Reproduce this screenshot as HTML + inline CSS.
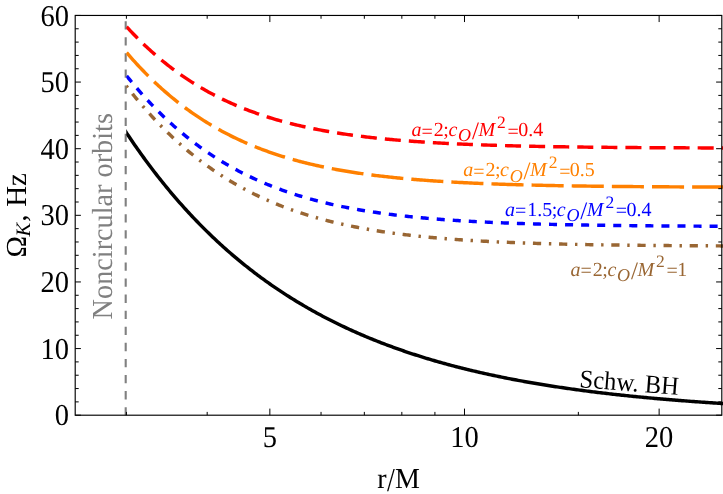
<!DOCTYPE html>
<html><head><meta charset="utf-8"><title>plot</title>
<style>html,body{margin:0;padding:0;background:#fff}body{width:723px;height:494px;position:relative;overflow:hidden;font-family:"Liberation Serif",serif}</style>
</head><body>
<svg width="723" height="494" viewBox="0 0 723 494" style="position:absolute;left:0;top:0;will-change:transform;text-rendering:geometricPrecision">
<defs><clipPath id="cl"><rect x="126.30" y="15.45" width="596.70" height="399.75"/></clipPath></defs>
<line x1="125.7" y1="21.15" x2="125.7" y2="415.20" stroke="#808080" stroke-width="2.1" stroke-dasharray="8.35 7.733" stroke-dashoffset="0"/>
<path id="c_red" clip-path="url(#cl)" d="M122.63 22.32 L124.13 24.01 L125.64 25.68 L127.14 27.33 L128.64 28.95 L130.15 30.57 L131.65 32.16 L133.15 33.73 L134.66 35.28 L136.16 36.82 L137.66 38.34 L139.17 39.83 L140.67 41.31 L142.17 42.78 L143.68 44.22 L145.18 45.65 L146.69 47.06 L148.19 48.45 L149.69 49.83 L151.20 51.19 L152.70 52.53 L154.20 53.86 L155.71 55.17 L157.21 56.46 L158.71 57.74 L160.22 59.00 L161.72 60.25 L163.22 61.48 L164.73 62.69 L166.23 63.89 L167.73 65.07 L169.24 66.24 L170.74 67.40 L172.25 68.54 L173.75 69.66 L175.25 70.78 L176.76 71.87 L178.26 72.96 L179.76 74.03 L181.27 75.08 L182.77 76.12 L184.27 77.15 L185.78 78.17 L187.28 79.17 L188.78 80.16 L190.29 81.13 L191.79 82.10 L193.29 83.05 L194.80 83.98 L196.30 84.91 L197.81 85.82 L199.31 86.72 L200.81 87.61 L202.32 88.49 L203.82 89.36 L205.32 90.21 L206.83 91.05 L208.33 91.89 L209.83 92.71 L211.34 93.52 L212.84 94.31 L214.34 95.10 L215.85 95.88 L217.35 96.65 L218.85 97.40 L220.36 98.15 L221.86 98.88 L223.37 99.61 L224.87 100.33 L226.37 101.03 L227.88 101.73 L229.38 102.41 L230.88 103.09 L232.39 103.76 L233.89 104.42 L235.39 105.07 L236.90 105.71 L238.40 106.34 L239.90 106.96 L241.41 107.58 L242.91 108.18 L244.41 108.78 L245.92 109.37 L247.42 109.95 L248.92 110.52 L250.43 111.08 L251.93 111.64 L253.44 112.19 L254.94 112.73 L256.44 113.26 L257.95 113.79 L259.45 114.31 L260.95 114.82 L262.46 115.32 L263.96 115.82 L265.46 116.30 L266.97 116.79 L268.47 117.26 L269.97 117.73 L271.48 118.19 L272.98 118.65 L274.48 119.09 L275.99 119.54 L277.49 119.97 L279.00 120.40 L280.50 120.82 L282.00 121.24 L283.51 121.65 L285.01 122.05 L286.51 122.45 L288.02 122.85 L289.52 123.23 L291.02 123.61 L292.53 123.99 L294.03 124.36 L295.53 124.73 L297.04 125.08 L298.54 125.44 L300.04 125.79 L301.55 126.13 L303.05 126.47 L304.56 126.80 L306.06 127.13 L307.56 127.46 L309.07 127.78 L310.57 128.09 L312.07 128.40 L313.58 128.71 L315.08 129.01 L316.58 129.30 L318.09 129.59 L319.59 129.88 L321.09 130.16 L322.60 130.44 L324.10 130.72 L325.60 130.99 L327.11 131.25 L328.61 131.52 L330.12 131.78 L331.62 132.03 L333.12 132.28 L334.63 132.53 L336.13 132.77 L337.63 133.01 L339.14 133.25 L340.64 133.48 L342.14 133.71 L343.65 133.93 L345.15 134.16 L346.65 134.37 L348.16 134.59 L349.66 134.80 L351.16 135.01 L352.67 135.22 L354.17 135.42 L355.67 135.62 L357.18 135.81 L358.68 136.01 L360.19 136.20 L361.69 136.39 L363.19 136.57 L364.70 136.75 L366.20 136.93 L367.70 137.11 L369.21 137.28 L370.71 137.45 L372.21 137.62 L373.72 137.79 L375.22 137.95 L376.72 138.11 L378.23 138.27 L379.73 138.43 L381.23 138.58 L382.74 138.73 L384.24 138.88 L385.75 139.02 L387.25 139.17 L388.75 139.31 L390.26 139.45 L391.76 139.59 L393.26 139.72 L394.77 139.86 L396.27 139.99 L397.77 140.12 L399.28 140.25 L400.78 140.37 L402.28 140.49 L403.79 140.62 L405.29 140.74 L406.79 140.85 L408.30 140.97 L409.80 141.08 L411.31 141.20 L412.81 141.31 L414.31 141.41 L415.82 141.52 L417.32 141.63 L418.82 141.73 L420.33 141.83 L421.83 141.93 L423.33 142.03 L424.84 142.13 L426.34 142.23 L427.84 142.32 L429.35 142.41 L430.85 142.51 L432.35 142.60 L433.86 142.69 L435.36 142.77 L436.87 142.86 L438.37 142.94 L439.87 143.03 L441.38 143.11 L442.88 143.19 L444.38 143.27 L445.89 143.35 L447.39 143.42 L448.89 143.50 L450.40 143.57 L451.90 143.65 L453.40 143.72 L454.91 143.79 L456.41 143.86 L457.91 143.93 L459.42 144.00 L460.92 144.07 L462.42 144.13 L463.93 144.20 L465.43 144.26 L466.94 144.32 L468.44 144.38 L469.94 144.45 L471.45 144.50 L472.95 144.56 L474.45 144.62 L475.96 144.68 L477.46 144.73 L478.96 144.79 L480.47 144.84 L481.97 144.90 L483.47 144.95 L484.98 145.00 L486.48 145.05 L487.98 145.10 L489.49 145.15 L490.99 145.20 L492.50 145.25 L494.00 145.30 L495.50 145.34 L497.01 145.39 L498.51 145.43 L500.01 145.48 L501.52 145.52 L503.02 145.56 L504.52 145.61 L506.03 145.65 L507.53 145.69 L509.03 145.73 L510.54 145.77 L512.04 145.81 L513.54 145.85 L515.05 145.88 L516.55 145.92 L518.06 145.96 L519.56 145.99 L521.06 146.03 L522.57 146.06 L524.07 146.10 L525.57 146.13 L527.08 146.17 L528.58 146.20 L530.08 146.23 L531.59 146.26 L533.09 146.29 L534.59 146.32 L536.10 146.35 L537.60 146.38 L539.10 146.41 L540.61 146.44 L542.11 146.47 L543.62 146.50 L545.12 146.53 L546.62 146.55 L548.13 146.58 L549.63 146.61 L551.13 146.63 L552.64 146.66 L554.14 146.68 L555.64 146.71 L557.15 146.73 L558.65 146.75 L560.15 146.78 L561.66 146.80 L563.16 146.82 L564.66 146.84 L566.17 146.87 L567.67 146.89 L569.17 146.91 L570.68 146.93 L572.18 146.95 L573.69 146.97 L575.19 146.99 L576.69 147.01 L578.20 147.03 L579.70 147.05 L581.20 147.07 L582.71 147.09 L584.21 147.10 L585.71 147.12 L587.22 147.14 L588.72 147.16 L590.22 147.17 L591.73 147.19 L593.23 147.21 L594.73 147.22 L596.24 147.24 L597.74 147.26 L599.25 147.27 L600.75 147.29 L602.25 147.30 L603.76 147.32 L605.26 147.33 L606.76 147.34 L608.27 147.36 L609.77 147.37 L611.27 147.39 L612.78 147.40 L614.28 147.41 L615.78 147.42 L617.29 147.44 L618.79 147.45 L620.29 147.46 L621.80 147.47 L623.30 147.49 L624.81 147.50 L626.31 147.51 L627.81 147.52 L629.32 147.53 L630.82 147.54 L632.32 147.55 L633.83 147.57 L635.33 147.58 L636.83 147.59 L638.34 147.60 L639.84 147.61 L641.34 147.62 L642.85 147.63 L644.35 147.64 L645.85 147.64 L647.36 147.65 L648.86 147.66 L650.37 147.67 L651.87 147.68 L653.37 147.69 L654.88 147.70 L656.38 147.71 L657.88 147.71 L659.39 147.72 L660.89 147.73 L662.39 147.74 L663.90 147.75 L665.40 147.75 L666.90 147.76 L668.41 147.77 L669.91 147.78 L671.41 147.78 L672.92 147.79 L674.42 147.80 L675.92 147.80 L677.43 147.81 L678.93 147.82 L680.44 147.82 L681.94 147.83 L683.44 147.84 L684.95 147.84 L686.45 147.85 L687.95 147.85 L689.46 147.86 L690.96 147.87 L692.46 147.87 L693.97 147.88 L695.47 147.88 L696.97 147.89 L698.48 147.89 L699.98 147.90 L701.48 147.90 L702.99 147.91 L704.49 147.91 L706.00 147.92 L707.50 147.92 L709.00 147.93 L710.51 147.93 L712.01 147.94 L713.51 147.94 L715.02 147.95 L716.52 147.95 L718.02 147.96 L719.53 147.96 L721.03 147.96 L722.53 147.97 L724.04 147.97" fill="none" stroke="#ff0000" stroke-width="3.45" stroke-dasharray="16.05 8.03" stroke-dashoffset="-5.94"/>
<path id="c_orange" clip-path="url(#cl)" d="M122.63 47.80 L124.13 49.61 L125.64 51.39 L127.14 53.16 L128.64 54.91 L130.15 56.63 L131.65 58.34 L133.15 60.03 L134.66 61.70 L136.16 63.35 L137.66 64.98 L139.17 66.59 L140.67 68.19 L142.17 69.76 L143.68 71.32 L145.18 72.86 L146.69 74.39 L148.19 75.89 L149.69 77.38 L151.20 78.85 L152.70 80.30 L154.20 81.74 L155.71 83.16 L157.21 84.56 L158.71 85.95 L160.22 87.32 L161.72 88.67 L163.22 90.01 L164.73 91.33 L166.23 92.64 L167.73 93.93 L169.24 95.20 L170.74 96.46 L172.25 97.71 L173.75 98.94 L175.25 100.15 L176.76 101.35 L178.26 102.54 L179.76 103.71 L181.27 104.86 L182.77 106.01 L184.27 107.13 L185.78 108.25 L187.28 109.35 L188.78 110.44 L190.29 111.51 L191.79 112.57 L193.29 113.61 L194.80 114.65 L196.30 115.67 L197.81 116.68 L199.31 117.67 L200.81 118.65 L202.32 119.62 L203.82 120.58 L205.32 121.53 L206.83 122.46 L208.33 123.38 L209.83 124.29 L211.34 125.19 L212.84 126.07 L214.34 126.95 L215.85 127.81 L217.35 128.66 L218.85 129.50 L220.36 130.33 L221.86 131.15 L223.37 131.96 L224.87 132.76 L226.37 133.55 L227.88 134.32 L229.38 135.09 L230.88 135.85 L232.39 136.59 L233.89 137.33 L235.39 138.06 L236.90 138.77 L238.40 139.48 L239.90 140.18 L241.41 140.87 L242.91 141.55 L244.41 142.22 L245.92 142.88 L247.42 143.53 L248.92 144.17 L250.43 144.81 L251.93 145.43 L253.44 146.05 L254.94 146.66 L256.44 147.26 L257.95 147.85 L259.45 148.43 L260.95 149.01 L262.46 149.58 L263.96 150.14 L265.46 150.69 L266.97 151.23 L268.47 151.77 L269.97 152.30 L271.48 152.82 L272.98 153.34 L274.48 153.85 L275.99 154.35 L277.49 154.84 L279.00 155.33 L280.50 155.81 L282.00 156.28 L283.51 156.74 L285.01 157.20 L286.51 157.66 L288.02 158.10 L289.52 158.54 L291.02 158.98 L292.53 159.41 L294.03 159.83 L295.53 160.24 L297.04 160.65 L298.54 161.06 L300.04 161.46 L301.55 161.85 L303.05 162.23 L304.56 162.61 L306.06 162.99 L307.56 163.36 L309.07 163.73 L310.57 164.08 L312.07 164.44 L313.58 164.79 L315.08 165.13 L316.58 165.47 L318.09 165.80 L319.59 166.13 L321.09 166.46 L322.60 166.78 L324.10 167.09 L325.60 167.40 L327.11 167.71 L328.61 168.01 L330.12 168.31 L331.62 168.60 L333.12 168.89 L334.63 169.17 L336.13 169.45 L337.63 169.73 L339.14 170.00 L340.64 170.26 L342.14 170.53 L343.65 170.79 L345.15 171.04 L346.65 171.29 L348.16 171.54 L349.66 171.79 L351.16 172.03 L352.67 172.26 L354.17 172.50 L355.67 172.73 L357.18 172.95 L358.68 173.18 L360.19 173.40 L361.69 173.61 L363.19 173.83 L364.70 174.04 L366.20 174.24 L367.70 174.45 L369.21 174.65 L370.71 174.84 L372.21 175.04 L373.72 175.23 L375.22 175.42 L376.72 175.61 L378.23 175.79 L379.73 175.97 L381.23 176.15 L382.74 176.32 L384.24 176.49 L385.75 176.66 L387.25 176.83 L388.75 176.99 L390.26 177.16 L391.76 177.32 L393.26 177.47 L394.77 177.63 L396.27 177.78 L397.77 177.93 L399.28 178.08 L400.78 178.22 L402.28 178.37 L403.79 178.51 L405.29 178.65 L406.79 178.78 L408.30 178.92 L409.80 179.05 L411.31 179.18 L412.81 179.31 L414.31 179.43 L415.82 179.56 L417.32 179.68 L418.82 179.80 L420.33 179.92 L421.83 180.04 L423.33 180.15 L424.84 180.27 L426.34 180.38 L427.84 180.49 L429.35 180.60 L430.85 180.70 L432.35 180.81 L433.86 180.91 L435.36 181.01 L436.87 181.11 L438.37 181.21 L439.87 181.31 L441.38 181.40 L442.88 181.50 L444.38 181.59 L445.89 181.68 L447.39 181.77 L448.89 181.86 L450.40 181.95 L451.90 182.03 L453.40 182.12 L454.91 182.20 L456.41 182.28 L457.91 182.36 L459.42 182.44 L460.92 182.52 L462.42 182.59 L463.93 182.67 L465.43 182.74 L466.94 182.82 L468.44 182.89 L469.94 182.96 L471.45 183.03 L472.95 183.10 L474.45 183.17 L475.96 183.23 L477.46 183.30 L478.96 183.36 L480.47 183.43 L481.97 183.49 L483.47 183.55 L484.98 183.61 L486.48 183.67 L487.98 183.73 L489.49 183.79 L490.99 183.84 L492.50 183.90 L494.00 183.95 L495.50 184.01 L497.01 184.06 L498.51 184.11 L500.01 184.17 L501.52 184.22 L503.02 184.27 L504.52 184.32 L506.03 184.36 L507.53 184.41 L509.03 184.46 L510.54 184.51 L512.04 184.55 L513.54 184.60 L515.05 184.64 L516.55 184.68 L518.06 184.73 L519.56 184.77 L521.06 184.81 L522.57 184.85 L524.07 184.89 L525.57 184.93 L527.08 184.97 L528.58 185.01 L530.08 185.04 L531.59 185.08 L533.09 185.12 L534.59 185.15 L536.10 185.19 L537.60 185.22 L539.10 185.26 L540.61 185.29 L542.11 185.32 L543.62 185.36 L545.12 185.39 L546.62 185.42 L548.13 185.45 L549.63 185.48 L551.13 185.51 L552.64 185.54 L554.14 185.57 L555.64 185.60 L557.15 185.63 L558.65 185.66 L560.15 185.68 L561.66 185.71 L563.16 185.74 L564.66 185.76 L566.17 185.79 L567.67 185.81 L569.17 185.84 L570.68 185.86 L572.18 185.89 L573.69 185.91 L575.19 185.93 L576.69 185.96 L578.20 185.98 L579.70 186.00 L581.20 186.02 L582.71 186.04 L584.21 186.07 L585.71 186.09 L587.22 186.11 L588.72 186.13 L590.22 186.15 L591.73 186.17 L593.23 186.19 L594.73 186.21 L596.24 186.22 L597.74 186.24 L599.25 186.26 L600.75 186.28 L602.25 186.30 L603.76 186.31 L605.26 186.33 L606.76 186.35 L608.27 186.36 L609.77 186.38 L611.27 186.39 L612.78 186.41 L614.28 186.43 L615.78 186.44 L617.29 186.46 L618.79 186.47 L620.29 186.49 L621.80 186.50 L623.30 186.51 L624.81 186.53 L626.31 186.54 L627.81 186.55 L629.32 186.57 L630.82 186.58 L632.32 186.59 L633.83 186.61 L635.33 186.62 L636.83 186.63 L638.34 186.64 L639.84 186.65 L641.34 186.66 L642.85 186.68 L644.35 186.69 L645.85 186.70 L647.36 186.71 L648.86 186.72 L650.37 186.73 L651.87 186.74 L653.37 186.75 L654.88 186.76 L656.38 186.77 L657.88 186.78 L659.39 186.79 L660.89 186.80 L662.39 186.81 L663.90 186.82 L665.40 186.83 L666.90 186.84 L668.41 186.84 L669.91 186.85 L671.41 186.86 L672.92 186.87 L674.42 186.88 L675.92 186.88 L677.43 186.89 L678.93 186.90 L680.44 186.91 L681.94 186.92 L683.44 186.92 L684.95 186.93 L686.45 186.94 L687.95 186.94 L689.46 186.95 L690.96 186.96 L692.46 186.96 L693.97 186.97 L695.47 186.98 L696.97 186.98 L698.48 186.99 L699.98 187.00 L701.48 187.00 L702.99 187.01 L704.49 187.01 L706.00 187.02 L707.50 187.03 L709.00 187.03 L710.51 187.04 L712.01 187.04 L713.51 187.05 L715.02 187.05 L716.52 187.06 L718.02 187.06 L719.53 187.07 L721.03 187.07 L722.53 187.08 L724.04 187.08" fill="none" stroke="#ff8000" stroke-width="3.45" stroke-dasharray="32.1 8.04" stroke-dashoffset="-6.16"/>
<path id="c_blue" clip-path="url(#cl)" d="M122.63 70.75 L124.13 72.68 L125.64 74.59 L127.14 76.47 L128.64 78.34 L130.15 80.19 L131.65 82.02 L133.15 83.83 L134.66 85.62 L136.16 87.39 L137.66 89.14 L139.17 90.87 L140.67 92.59 L142.17 94.28 L143.68 95.96 L145.18 97.62 L146.69 99.27 L148.19 100.89 L149.69 102.50 L151.20 104.09 L152.70 105.66 L154.20 107.21 L155.71 108.75 L157.21 110.27 L158.71 111.77 L160.22 113.26 L161.72 114.73 L163.22 116.19 L164.73 117.62 L166.23 119.05 L167.73 120.45 L169.24 121.84 L170.74 123.22 L172.25 124.58 L173.75 125.92 L175.25 127.25 L176.76 128.56 L178.26 129.86 L179.76 131.14 L181.27 132.41 L182.77 133.67 L184.27 134.90 L185.78 136.13 L187.28 137.34 L188.78 138.54 L190.29 139.72 L191.79 140.89 L193.29 142.04 L194.80 143.18 L196.30 144.31 L197.81 145.43 L199.31 146.53 L200.81 147.62 L202.32 148.69 L203.82 149.75 L205.32 150.80 L206.83 151.84 L208.33 152.86 L209.83 153.88 L211.34 154.88 L212.84 155.86 L214.34 156.84 L215.85 157.80 L217.35 158.75 L218.85 159.69 L220.36 160.62 L221.86 161.54 L223.37 162.45 L224.87 163.34 L226.37 164.22 L227.88 165.09 L229.38 165.96 L230.88 166.81 L232.39 167.65 L233.89 168.48 L235.39 169.29 L236.90 170.10 L238.40 170.90 L239.90 171.69 L241.41 172.47 L242.91 173.23 L244.41 173.99 L245.92 174.74 L247.42 175.48 L248.92 176.21 L250.43 176.93 L251.93 177.64 L253.44 178.34 L254.94 179.03 L256.44 179.71 L257.95 180.39 L259.45 181.05 L260.95 181.71 L262.46 182.36 L263.96 182.99 L265.46 183.63 L266.97 184.25 L268.47 184.86 L269.97 185.47 L271.48 186.07 L272.98 186.66 L274.48 187.24 L275.99 187.81 L277.49 188.38 L279.00 188.94 L280.50 189.49 L282.00 190.03 L283.51 190.57 L285.01 191.10 L286.51 191.62 L288.02 192.13 L289.52 192.64 L291.02 193.14 L292.53 193.63 L294.03 194.12 L295.53 194.60 L297.04 195.07 L298.54 195.54 L300.04 196.00 L301.55 196.46 L303.05 196.90 L304.56 197.35 L306.06 197.78 L307.56 198.21 L309.07 198.63 L310.57 199.05 L312.07 199.46 L313.58 199.87 L315.08 200.27 L316.58 200.66 L318.09 201.05 L319.59 201.44 L321.09 201.81 L322.60 202.19 L324.10 202.55 L325.60 202.92 L327.11 203.27 L328.61 203.62 L330.12 203.97 L331.62 204.31 L333.12 204.65 L334.63 204.98 L336.13 205.31 L337.63 205.63 L339.14 205.95 L340.64 206.26 L342.14 206.57 L343.65 206.88 L345.15 207.18 L346.65 207.47 L348.16 207.76 L349.66 208.05 L351.16 208.33 L352.67 208.61 L354.17 208.89 L355.67 209.16 L357.18 209.42 L358.68 209.69 L360.19 209.94 L361.69 210.20 L363.19 210.45 L364.70 210.70 L366.20 210.94 L367.70 211.18 L369.21 211.42 L370.71 211.65 L372.21 211.88 L373.72 212.11 L375.22 212.33 L376.72 212.55 L378.23 212.77 L379.73 212.98 L381.23 213.19 L382.74 213.40 L384.24 213.60 L385.75 213.80 L387.25 214.00 L388.75 214.20 L390.26 214.39 L391.76 214.58 L393.26 214.76 L394.77 214.95 L396.27 215.13 L397.77 215.30 L399.28 215.48 L400.78 215.65 L402.28 215.82 L403.79 215.99 L405.29 216.15 L406.79 216.32 L408.30 216.48 L409.80 216.63 L411.31 216.79 L412.81 216.94 L414.31 217.09 L415.82 217.24 L417.32 217.39 L418.82 217.53 L420.33 217.67 L421.83 217.81 L423.33 217.95 L424.84 218.08 L426.34 218.22 L427.84 218.35 L429.35 218.48 L430.85 218.60 L432.35 218.73 L433.86 218.85 L435.36 218.97 L436.87 219.09 L438.37 219.21 L439.87 219.33 L441.38 219.44 L442.88 219.55 L444.38 219.66 L445.89 219.77 L447.39 219.88 L448.89 219.98 L450.40 220.09 L451.90 220.19 L453.40 220.29 L454.91 220.39 L456.41 220.49 L457.91 220.58 L459.42 220.68 L460.92 220.77 L462.42 220.86 L463.93 220.95 L465.43 221.04 L466.94 221.13 L468.44 221.22 L469.94 221.30 L471.45 221.39 L472.95 221.47 L474.45 221.55 L475.96 221.63 L477.46 221.71 L478.96 221.78 L480.47 221.86 L481.97 221.94 L483.47 222.01 L484.98 222.08 L486.48 222.15 L487.98 222.22 L489.49 222.29 L490.99 222.36 L492.50 222.43 L494.00 222.49 L495.50 222.56 L497.01 222.62 L498.51 222.69 L500.01 222.75 L501.52 222.81 L503.02 222.87 L504.52 222.93 L506.03 222.99 L507.53 223.04 L509.03 223.10 L510.54 223.16 L512.04 223.21 L513.54 223.26 L515.05 223.32 L516.55 223.37 L518.06 223.42 L519.56 223.47 L521.06 223.52 L522.57 223.57 L524.07 223.62 L525.57 223.67 L527.08 223.71 L528.58 223.76 L530.08 223.80 L531.59 223.85 L533.09 223.89 L534.59 223.93 L536.10 223.98 L537.60 224.02 L539.10 224.06 L540.61 224.10 L542.11 224.14 L543.62 224.18 L545.12 224.22 L546.62 224.26 L548.13 224.29 L549.63 224.33 L551.13 224.37 L552.64 224.40 L554.14 224.44 L555.64 224.47 L557.15 224.51 L558.65 224.54 L560.15 224.57 L561.66 224.60 L563.16 224.64 L564.66 224.67 L566.17 224.70 L567.67 224.73 L569.17 224.76 L570.68 224.79 L572.18 224.82 L573.69 224.85 L575.19 224.87 L576.69 224.90 L578.20 224.93 L579.70 224.96 L581.20 224.98 L582.71 225.01 L584.21 225.03 L585.71 225.06 L587.22 225.08 L588.72 225.11 L590.22 225.13 L591.73 225.16 L593.23 225.18 L594.73 225.20 L596.24 225.22 L597.74 225.25 L599.25 225.27 L600.75 225.29 L602.25 225.31 L603.76 225.33 L605.26 225.35 L606.76 225.37 L608.27 225.39 L609.77 225.41 L611.27 225.43 L612.78 225.45 L614.28 225.47 L615.78 225.49 L617.29 225.50 L618.79 225.52 L620.29 225.54 L621.80 225.56 L623.30 225.57 L624.81 225.59 L626.31 225.61 L627.81 225.62 L629.32 225.64 L630.82 225.65 L632.32 225.67 L633.83 225.68 L635.33 225.70 L636.83 225.71 L638.34 225.73 L639.84 225.74 L641.34 225.76 L642.85 225.77 L644.35 225.78 L645.85 225.80 L647.36 225.81 L648.86 225.82 L650.37 225.83 L651.87 225.85 L653.37 225.86 L654.88 225.87 L656.38 225.88 L657.88 225.89 L659.39 225.91 L660.89 225.92 L662.39 225.93 L663.90 225.94 L665.40 225.95 L666.90 225.96 L668.41 225.97 L669.91 225.98 L671.41 225.99 L672.92 226.00 L674.42 226.01 L675.92 226.02 L677.43 226.03 L678.93 226.04 L680.44 226.05 L681.94 226.06 L683.44 226.07 L684.95 226.08 L686.45 226.08 L687.95 226.09 L689.46 226.10 L690.96 226.11 L692.46 226.12 L693.97 226.13 L695.47 226.13 L696.97 226.14 L698.48 226.15 L699.98 226.16 L701.48 226.16 L702.99 226.17 L704.49 226.18 L706.00 226.18 L707.50 226.19 L709.00 226.20 L710.51 226.20 L712.01 226.21 L713.51 226.22 L715.02 226.22 L716.52 226.23 L718.02 226.24 L719.53 226.24 L721.03 226.25 L722.53 226.25 L724.04 226.26" fill="none" stroke="#0000ff" stroke-width="3.45" stroke-dasharray="8.03 8.03" stroke-dashoffset="-6.50"/>
<path id="c_brown" clip-path="url(#cl)" d="M122.63 81.13 L124.13 83.12 L125.64 85.09 L127.14 87.03 L128.64 88.96 L130.15 90.87 L131.65 92.76 L133.15 94.63 L134.66 96.48 L136.16 98.31 L137.66 100.12 L139.17 101.92 L140.67 103.69 L142.17 105.45 L143.68 107.19 L145.18 108.91 L146.69 110.61 L148.19 112.30 L149.69 113.96 L151.20 115.61 L152.70 117.25 L154.20 118.86 L155.71 120.46 L157.21 122.04 L158.71 123.61 L160.22 125.16 L161.72 126.69 L163.22 128.20 L164.73 129.70 L166.23 131.18 L167.73 132.65 L169.24 134.10 L170.74 135.53 L172.25 136.95 L173.75 138.36 L175.25 139.75 L176.76 141.12 L178.26 142.48 L179.76 143.82 L181.27 145.15 L182.77 146.46 L184.27 147.76 L185.78 149.04 L187.28 150.31 L188.78 151.57 L190.29 152.81 L191.79 154.04 L193.29 155.25 L194.80 156.45 L196.30 157.64 L197.81 158.81 L199.31 159.97 L200.81 161.11 L202.32 162.25 L203.82 163.37 L205.32 164.47 L206.83 165.57 L208.33 166.65 L209.83 167.71 L211.34 168.77 L212.84 169.81 L214.34 170.85 L215.85 171.86 L217.35 172.87 L218.85 173.87 L220.36 174.85 L221.86 175.82 L223.37 176.78 L224.87 177.73 L226.37 178.67 L227.88 179.59 L229.38 180.51 L230.88 181.41 L232.39 182.30 L233.89 183.18 L235.39 184.05 L236.90 184.91 L238.40 185.76 L239.90 186.60 L241.41 187.43 L242.91 188.25 L244.41 189.06 L245.92 189.86 L247.42 190.64 L248.92 191.42 L250.43 192.19 L251.93 192.95 L253.44 193.70 L254.94 194.44 L256.44 195.17 L257.95 195.89 L259.45 196.60 L260.95 197.31 L262.46 198.00 L263.96 198.69 L265.46 199.36 L266.97 200.03 L268.47 200.69 L269.97 201.34 L271.48 201.98 L272.98 202.62 L274.48 203.24 L275.99 203.86 L277.49 204.47 L279.00 205.07 L280.50 205.66 L282.00 206.25 L283.51 206.83 L285.01 207.40 L286.51 207.96 L288.02 208.52 L289.52 209.06 L291.02 209.60 L292.53 210.14 L294.03 210.66 L295.53 211.18 L297.04 211.70 L298.54 212.20 L300.04 212.70 L301.55 213.19 L303.05 213.68 L304.56 214.15 L306.06 214.63 L307.56 215.09 L309.07 215.55 L310.57 216.00 L312.07 216.45 L313.58 216.89 L315.08 217.33 L316.58 217.75 L318.09 218.18 L319.59 218.59 L321.09 219.01 L322.60 219.41 L324.10 219.81 L325.60 220.20 L327.11 220.59 L328.61 220.98 L330.12 221.35 L331.62 221.73 L333.12 222.09 L334.63 222.46 L336.13 222.81 L337.63 223.16 L339.14 223.51 L340.64 223.85 L342.14 224.19 L343.65 224.52 L345.15 224.85 L346.65 225.17 L348.16 225.49 L349.66 225.81 L351.16 226.11 L352.67 226.42 L354.17 226.72 L355.67 227.02 L357.18 227.31 L358.68 227.60 L360.19 227.88 L361.69 228.16 L363.19 228.43 L364.70 228.71 L366.20 228.97 L367.70 229.24 L369.21 229.50 L370.71 229.75 L372.21 230.01 L373.72 230.25 L375.22 230.50 L376.72 230.74 L378.23 230.98 L379.73 231.21 L381.23 231.44 L382.74 231.67 L384.24 231.89 L385.75 232.12 L387.25 232.33 L388.75 232.55 L390.26 232.76 L391.76 232.97 L393.26 233.17 L394.77 233.37 L396.27 233.57 L397.77 233.77 L399.28 233.96 L400.78 234.15 L402.28 234.34 L403.79 234.52 L405.29 234.71 L406.79 234.89 L408.30 235.06 L409.80 235.24 L411.31 235.41 L412.81 235.58 L414.31 235.74 L415.82 235.90 L417.32 236.07 L418.82 236.22 L420.33 236.38 L421.83 236.53 L423.33 236.69 L424.84 236.84 L426.34 236.98 L427.84 237.13 L429.35 237.27 L430.85 237.41 L432.35 237.55 L433.86 237.69 L435.36 237.82 L436.87 237.95 L438.37 238.08 L439.87 238.21 L441.38 238.34 L442.88 238.46 L444.38 238.58 L445.89 238.70 L447.39 238.82 L448.89 238.94 L450.40 239.05 L451.90 239.17 L453.40 239.28 L454.91 239.39 L456.41 239.50 L457.91 239.60 L459.42 239.71 L460.92 239.81 L462.42 239.91 L463.93 240.01 L465.43 240.11 L466.94 240.21 L468.44 240.31 L469.94 240.40 L471.45 240.49 L472.95 240.58 L474.45 240.67 L475.96 240.76 L477.46 240.85 L478.96 240.93 L480.47 241.02 L481.97 241.10 L483.47 241.18 L484.98 241.26 L486.48 241.34 L487.98 241.42 L489.49 241.50 L490.99 241.57 L492.50 241.65 L494.00 241.72 L495.50 241.79 L497.01 241.87 L498.51 241.94 L500.01 242.00 L501.52 242.07 L503.02 242.14 L504.52 242.20 L506.03 242.27 L507.53 242.33 L509.03 242.40 L510.54 242.46 L512.04 242.52 L513.54 242.58 L515.05 242.64 L516.55 242.69 L518.06 242.75 L519.56 242.81 L521.06 242.86 L522.57 242.92 L524.07 242.97 L525.57 243.02 L527.08 243.08 L528.58 243.13 L530.08 243.18 L531.59 243.23 L533.09 243.28 L534.59 243.32 L536.10 243.37 L537.60 243.42 L539.10 243.46 L540.61 243.51 L542.11 243.55 L543.62 243.60 L545.12 243.64 L546.62 243.68 L548.13 243.72 L549.63 243.76 L551.13 243.80 L552.64 243.84 L554.14 243.88 L555.64 243.92 L557.15 243.96 L558.65 244.00 L560.15 244.03 L561.66 244.07 L563.16 244.10 L564.66 244.14 L566.17 244.17 L567.67 244.21 L569.17 244.24 L570.68 244.27 L572.18 244.31 L573.69 244.34 L575.19 244.37 L576.69 244.40 L578.20 244.43 L579.70 244.46 L581.20 244.49 L582.71 244.52 L584.21 244.55 L585.71 244.58 L587.22 244.60 L588.72 244.63 L590.22 244.66 L591.73 244.68 L593.23 244.71 L594.73 244.73 L596.24 244.76 L597.74 244.78 L599.25 244.81 L600.75 244.83 L602.25 244.86 L603.76 244.88 L605.26 244.90 L606.76 244.92 L608.27 244.95 L609.77 244.97 L611.27 244.99 L612.78 245.01 L614.28 245.03 L615.78 245.05 L617.29 245.07 L618.79 245.09 L620.29 245.11 L621.80 245.13 L623.30 245.15 L624.81 245.17 L626.31 245.19 L627.81 245.20 L629.32 245.22 L630.82 245.24 L632.32 245.26 L633.83 245.27 L635.33 245.29 L636.83 245.30 L638.34 245.32 L639.84 245.34 L641.34 245.35 L642.85 245.37 L644.35 245.38 L645.85 245.40 L647.36 245.41 L648.86 245.43 L650.37 245.44 L651.87 245.45 L653.37 245.47 L654.88 245.48 L656.38 245.49 L657.88 245.51 L659.39 245.52 L660.89 245.53 L662.39 245.55 L663.90 245.56 L665.40 245.57 L666.90 245.58 L668.41 245.59 L669.91 245.60 L671.41 245.62 L672.92 245.63 L674.42 245.64 L675.92 245.65 L677.43 245.66 L678.93 245.67 L680.44 245.68 L681.94 245.69 L683.44 245.70 L684.95 245.71 L686.45 245.72 L687.95 245.73 L689.46 245.74 L690.96 245.75 L692.46 245.76 L693.97 245.76 L695.47 245.77 L696.97 245.78 L698.48 245.79 L699.98 245.80 L701.48 245.81 L702.99 245.82 L704.49 245.82 L706.00 245.83 L707.50 245.84 L709.00 245.85 L710.51 245.85 L712.01 245.86 L713.51 245.87 L715.02 245.88 L716.52 245.88 L718.02 245.89 L719.53 245.90 L721.03 245.90 L722.53 245.91 L724.04 245.92" fill="none" stroke="#996633" stroke-width="3.45" stroke-dasharray="2.4 7.75 8.23 7.75" stroke-dashoffset="-5.87"/>
<path id="c_black" clip-path="url(#cl)" d="M122.63 126.96 L124.13 129.27 L125.64 131.56 L127.14 133.83 L128.64 136.08 L130.15 138.31 L131.65 140.52 L133.15 142.72 L134.66 144.90 L136.16 147.06 L137.66 149.21 L139.17 151.34 L140.67 153.45 L142.17 155.54 L143.68 157.62 L145.18 159.68 L146.69 161.72 L148.19 163.75 L149.69 165.76 L151.20 167.76 L152.70 169.74 L154.20 171.70 L155.71 173.65 L157.21 175.58 L158.71 177.50 L160.22 179.40 L161.72 181.28 L163.22 183.15 L164.73 185.01 L166.23 186.85 L167.73 188.68 L169.24 190.49 L170.74 192.29 L172.25 194.07 L173.75 195.84 L175.25 197.59 L176.76 199.33 L178.26 201.06 L179.76 202.77 L181.27 204.47 L182.77 206.16 L184.27 207.83 L185.78 209.49 L187.28 211.14 L188.78 212.77 L190.29 214.39 L191.79 215.99 L193.29 217.59 L194.80 219.17 L196.30 220.74 L197.81 222.29 L199.31 223.83 L200.81 225.37 L202.32 226.88 L203.82 228.39 L205.32 229.88 L206.83 231.37 L208.33 232.84 L209.83 234.30 L211.34 235.74 L212.84 237.18 L214.34 238.60 L215.85 240.01 L217.35 241.42 L218.85 242.81 L220.36 244.19 L221.86 245.55 L223.37 246.91 L224.87 248.26 L226.37 249.59 L227.88 250.92 L229.38 252.23 L230.88 253.53 L232.39 254.83 L233.89 256.11 L235.39 257.38 L236.90 258.65 L238.40 259.90 L239.90 261.14 L241.41 262.37 L242.91 263.59 L244.41 264.81 L245.92 266.01 L247.42 267.20 L248.92 268.39 L250.43 269.56 L251.93 270.73 L253.44 271.88 L254.94 273.03 L256.44 274.17 L257.95 275.29 L259.45 276.41 L260.95 277.52 L262.46 278.62 L263.96 279.72 L265.46 280.80 L266.97 281.88 L268.47 282.94 L269.97 284.00 L271.48 285.05 L272.98 286.09 L274.48 287.12 L275.99 288.15 L277.49 289.16 L279.00 290.17 L280.50 291.17 L282.00 292.16 L283.51 293.15 L285.01 294.13 L286.51 295.09 L288.02 296.05 L289.52 297.01 L291.02 297.95 L292.53 298.89 L294.03 299.82 L295.53 300.74 L297.04 301.66 L298.54 302.57 L300.04 303.47 L301.55 304.36 L303.05 305.25 L304.56 306.13 L306.06 307.00 L307.56 307.87 L309.07 308.73 L310.57 309.58 L312.07 310.42 L313.58 311.26 L315.08 312.09 L316.58 312.92 L318.09 313.73 L319.59 314.55 L321.09 315.35 L322.60 316.15 L324.10 316.94 L325.60 317.73 L327.11 318.51 L328.61 319.28 L330.12 320.05 L331.62 320.81 L333.12 321.56 L334.63 322.31 L336.13 323.06 L337.63 323.79 L339.14 324.52 L340.64 325.25 L342.14 325.97 L343.65 326.68 L345.15 327.39 L346.65 328.09 L348.16 328.79 L349.66 329.48 L351.16 330.17 L352.67 330.85 L354.17 331.52 L355.67 332.19 L357.18 332.86 L358.68 333.51 L360.19 334.17 L361.69 334.82 L363.19 335.46 L364.70 336.10 L366.20 336.73 L367.70 337.36 L369.21 337.98 L370.71 338.60 L372.21 339.21 L373.72 339.82 L375.22 340.42 L376.72 341.02 L378.23 341.61 L379.73 342.20 L381.23 342.79 L382.74 343.36 L384.24 343.94 L385.75 344.51 L387.25 345.07 L388.75 345.64 L390.26 346.19 L391.76 346.74 L393.26 347.29 L394.77 347.83 L396.27 348.37 L397.77 348.91 L399.28 349.44 L400.78 349.96 L402.28 350.49 L403.79 351.00 L405.29 351.52 L406.79 352.03 L408.30 352.53 L409.80 353.03 L411.31 353.53 L412.81 354.02 L414.31 354.51 L415.82 355.00 L417.32 355.48 L418.82 355.96 L420.33 356.43 L421.83 356.90 L423.33 357.37 L424.84 357.83 L426.34 358.29 L427.84 358.75 L429.35 359.20 L430.85 359.64 L432.35 360.09 L433.86 360.53 L435.36 360.97 L436.87 361.40 L438.37 361.83 L439.87 362.26 L441.38 362.68 L442.88 363.10 L444.38 363.52 L445.89 363.93 L447.39 364.34 L448.89 364.75 L450.40 365.15 L451.90 365.55 L453.40 365.95 L454.91 366.34 L456.41 366.73 L457.91 367.12 L459.42 367.51 L460.92 367.89 L462.42 368.27 L463.93 368.64 L465.43 369.01 L466.94 369.38 L468.44 369.75 L469.94 370.11 L471.45 370.47 L472.95 370.83 L474.45 371.19 L475.96 371.54 L477.46 371.89 L478.96 372.24 L480.47 372.58 L481.97 372.92 L483.47 373.26 L484.98 373.59 L486.48 373.93 L487.98 374.26 L489.49 374.58 L490.99 374.91 L492.50 375.23 L494.00 375.55 L495.50 375.87 L497.01 376.18 L498.51 376.49 L500.01 376.80 L501.52 377.11 L503.02 377.42 L504.52 377.72 L506.03 378.02 L507.53 378.32 L509.03 378.61 L510.54 378.90 L512.04 379.19 L513.54 379.48 L515.05 379.77 L516.55 380.05 L518.06 380.33 L519.56 380.61 L521.06 380.89 L522.57 381.16 L524.07 381.43 L525.57 381.70 L527.08 381.97 L528.58 382.24 L530.08 382.50 L531.59 382.76 L533.09 383.02 L534.59 383.28 L536.10 383.54 L537.60 383.79 L539.10 384.04 L540.61 384.29 L542.11 384.54 L543.62 384.78 L545.12 385.03 L546.62 385.27 L548.13 385.51 L549.63 385.74 L551.13 385.98 L552.64 386.21 L554.14 386.44 L555.64 386.67 L557.15 386.90 L558.65 387.13 L560.15 387.35 L561.66 387.58 L563.16 387.80 L564.66 388.02 L566.17 388.23 L567.67 388.45 L569.17 388.66 L570.68 388.88 L572.18 389.09 L573.69 389.30 L575.19 389.50 L576.69 389.71 L578.20 389.91 L579.70 390.11 L581.20 390.32 L582.71 390.51 L584.21 390.71 L585.71 390.91 L587.22 391.10 L588.72 391.29 L590.22 391.49 L591.73 391.68 L593.23 391.86 L594.73 392.05 L596.24 392.24 L597.74 392.42 L599.25 392.60 L600.75 392.78 L602.25 392.96 L603.76 393.14 L605.26 393.32 L606.76 393.49 L608.27 393.66 L609.77 393.84 L611.27 394.01 L612.78 394.18 L614.28 394.35 L615.78 394.51 L617.29 394.68 L618.79 394.84 L620.29 395.00 L621.80 395.17 L623.30 395.33 L624.81 395.49 L626.31 395.64 L627.81 395.80 L629.32 395.95 L630.82 396.11 L632.32 396.26 L633.83 396.41 L635.33 396.56 L636.83 396.71 L638.34 396.86 L639.84 397.01 L641.34 397.15 L642.85 397.30 L644.35 397.44 L645.85 397.58 L647.36 397.72 L648.86 397.86 L650.37 398.00 L651.87 398.14 L653.37 398.28 L654.88 398.41 L656.38 398.55 L657.88 398.68 L659.39 398.81 L660.89 398.94 L662.39 399.07 L663.90 399.20 L665.40 399.33 L666.90 399.46 L668.41 399.58 L669.91 399.71 L671.41 399.83 L672.92 399.95 L674.42 400.08 L675.92 400.20 L677.43 400.32 L678.93 400.44 L680.44 400.55 L681.94 400.67 L683.44 400.79 L684.95 400.90 L686.45 401.02 L687.95 401.13 L689.46 401.24 L690.96 401.35 L692.46 401.46 L693.97 401.57 L695.47 401.68 L696.97 401.79 L698.48 401.90 L699.98 402.01 L701.48 402.11 L702.99 402.22 L704.49 402.32 L706.00 402.42 L707.50 402.52 L709.00 402.63 L710.51 402.73 L712.01 402.83 L713.51 402.93 L715.02 403.02 L716.52 403.12 L718.02 403.22 L719.53 403.31 L721.03 403.41 L722.53 403.50 L724.04 403.60" fill="none" stroke="#000000" stroke-width="3.45"/>
<rect x="75.20" y="15.45" width="646.60" height="399.75" fill="none" stroke="#000" stroke-width="1.15"/>
<path d="M75.20 415.20 h5.70 M721.80 415.20 h-5.70 M75.20 401.88 h3.50 M721.80 401.88 h-3.50 M75.20 388.55 h3.50 M721.80 388.55 h-3.50 M75.20 375.22 h3.50 M721.80 375.22 h-3.50 M75.20 361.90 h3.50 M721.80 361.90 h-3.50 M75.20 348.57 h5.70 M721.80 348.57 h-5.70 M75.20 335.25 h3.50 M721.80 335.25 h-3.50 M75.20 321.92 h3.50 M721.80 321.92 h-3.50 M75.20 308.60 h3.50 M721.80 308.60 h-3.50 M75.20 295.27 h3.50 M721.80 295.27 h-3.50 M75.20 281.95 h5.70 M721.80 281.95 h-5.70 M75.20 268.62 h3.50 M721.80 268.62 h-3.50 M75.20 255.30 h3.50 M721.80 255.30 h-3.50 M75.20 241.97 h3.50 M721.80 241.97 h-3.50 M75.20 228.65 h3.50 M721.80 228.65 h-3.50 M75.20 215.32 h5.70 M721.80 215.32 h-5.70 M75.20 202.00 h3.50 M721.80 202.00 h-3.50 M75.20 188.67 h3.50 M721.80 188.67 h-3.50 M75.20 175.35 h3.50 M721.80 175.35 h-3.50 M75.20 162.02 h3.50 M721.80 162.02 h-3.50 M75.20 148.70 h5.70 M721.80 148.70 h-5.70 M75.20 135.38 h3.50 M721.80 135.38 h-3.50 M75.20 122.05 h3.50 M721.80 122.05 h-3.50 M75.20 108.72 h3.50 M721.80 108.72 h-3.50 M75.20 95.40 h3.50 M721.80 95.40 h-3.50 M75.20 82.07 h5.70 M721.80 82.07 h-5.70 M75.20 68.75 h3.50 M721.80 68.75 h-3.50 M75.20 55.43 h3.50 M721.80 55.43 h-3.50 M75.20 42.10 h3.50 M721.80 42.10 h-3.50 M75.20 28.77 h3.50 M721.80 28.77 h-3.50 M75.20 15.45 h5.70 M721.80 15.45 h-5.70 M126.40 415.20 v-3.30 M126.40 15.45 v3.30 M207.18 415.20 v-3.30 M207.18 15.45 v3.30 M269.85 415.20 v-6.60 M269.85 15.45 v6.60 M321.04 415.20 v-3.30 M321.04 15.45 v3.30 M364.33 415.20 v-3.30 M364.33 15.45 v3.30 M401.83 415.20 v-3.30 M401.83 15.45 v3.30 M434.91 415.20 v-3.30 M434.91 15.45 v3.30 M464.49 415.20 v-6.60 M464.49 15.45 v6.60 M578.35 415.20 v-3.30 M578.35 15.45 v3.30 M659.14 415.20 v-6.60 M659.14 15.45 v6.60" stroke="#000" stroke-width="1.0" fill="none"/>
<g font-family="Liberation Serif, serif" fill="#000">
<text transform="translate(69.1 425.30) scale(0.94 1)" font-size="30.3" text-anchor="end">0</text>
<text transform="translate(69.1 358.68) scale(0.94 1)" font-size="30.3" text-anchor="end">10</text>
<text transform="translate(69.1 292.05) scale(0.94 1)" font-size="30.3" text-anchor="end">20</text>
<text transform="translate(69.1 225.42) scale(0.94 1)" font-size="30.3" text-anchor="end">30</text>
<text transform="translate(69.1 158.80) scale(0.94 1)" font-size="30.3" text-anchor="end">40</text>
<text transform="translate(69.1 92.17) scale(0.94 1)" font-size="30.3" text-anchor="end">50</text>
<text transform="translate(69.1 25.55) scale(0.94 1)" font-size="30.3" text-anchor="end">60</text>
<text transform="translate(269.75 446.7) scale(0.94 1)" font-size="30.3" text-anchor="middle">5</text>
<text transform="translate(464.39 446.7) scale(0.94 1)" font-size="30.3" text-anchor="middle">10</text>
<text transform="translate(659.04 446.7) scale(0.94 1)" font-size="30.3" text-anchor="middle">20</text>
<text transform="translate(0 487.8) scale(1 1.03)" font-size="28"><tspan x="377.35">r</tspan><tspan x="394.9">M</tspan></text>
<text transform="translate(387.0 491.2) scale(1 1.19)" font-size="28">/</text>
<text transform="translate(25.5 0) rotate(-90) scale(1 1.0)" font-size="29"><tspan x="-257.55">Ω</tspan><tspan x="-236.56" dy="4.3" font-size="20.5" font-style="italic">K</tspan><tspan x="-221.7" dy="-4.3">,</tspan><tspan x="-206.84">Hz</tspan></text>
<text transform="translate(112.0 319.4) rotate(-90) scale(1 1.027)" fill="#808080" font-size="28.25">Noncircular orbits</text>
<text transform="translate(579.1 387.2) rotate(4.4) scale(1 1.05)" font-size="24.6">Schw. BH</text>
</g>
<text y="135.80" fill="#ff0000" font-family="Liberation Serif, serif" font-size="20"><tspan x="411.50" font-style="italic">a</tspan><tspan x="421.60" dy="1.7">=</tspan><tspan x="433.80" dy="-1.7">2</tspan><tspan x="443.30">;</tspan><tspan x="448.40" font-style="italic">c</tspan><tspan x="458.10" dy="5.6" font-size="18" font-style="italic">O</tspan><tspan x="478.40" dy="-5.6" font-style="italic">M</tspan><tspan x="497.10" dy="-8.1" font-size="17.5">2</tspan><tspan x="507.45" dy="9.8">=</tspan><tspan x="518.15" dy="-1.7">0.4</tspan></text><text x="471.90" y="139.05" fill="#ff0000" font-family="Liberation Serif, serif" font-size="25">/</text>
<text y="176.10" fill="#ff8000" font-family="Liberation Serif, serif" font-size="20"><tspan x="463.20" font-style="italic">a</tspan><tspan x="473.30" dy="1.7">=</tspan><tspan x="485.50" dy="-1.7">2</tspan><tspan x="495.00">;</tspan><tspan x="500.10" font-style="italic">c</tspan><tspan x="509.80" dy="5.6" font-size="18" font-style="italic">O</tspan><tspan x="530.10" dy="-5.6" font-style="italic">M</tspan><tspan x="548.80" dy="-8.1" font-size="17.5">2</tspan><tspan x="559.15" dy="9.8">=</tspan><tspan x="569.85" dy="-1.7">0.5</tspan></text><text x="523.60" y="179.35" fill="#ff8000" font-family="Liberation Serif, serif" font-size="25">/</text>
<text y="215.70" fill="#0000ff" font-family="Liberation Serif, serif" font-size="20"><tspan x="504.90" font-style="italic">a</tspan><tspan x="515.00" dy="1.7">=</tspan><tspan x="527.20" dy="-1.7">1.5</tspan><tspan x="551.70">;</tspan><tspan x="556.80" font-style="italic">c</tspan><tspan x="566.50" dy="5.6" font-size="18" font-style="italic">O</tspan><tspan x="586.80" dy="-5.6" font-style="italic">M</tspan><tspan x="605.50" dy="-8.1" font-size="17.5">2</tspan><tspan x="615.85" dy="9.8">=</tspan><tspan x="626.55" dy="-1.7">0.4</tspan></text><text x="580.30" y="218.95" fill="#0000ff" font-family="Liberation Serif, serif" font-size="25">/</text>
<text y="275.50" fill="#996633" font-family="Liberation Serif, serif" font-size="20"><tspan x="570.50" font-style="italic">a</tspan><tspan x="580.60" dy="1.7">=</tspan><tspan x="592.80" dy="-1.7">2</tspan><tspan x="602.30">;</tspan><tspan x="607.40" font-style="italic">c</tspan><tspan x="617.10" dy="5.6" font-size="18" font-style="italic">O</tspan><tspan x="637.40" dy="-5.6" font-style="italic">M</tspan><tspan x="656.10" dy="-8.1" font-size="17.5">2</tspan><tspan x="666.45" dy="9.8">=</tspan><tspan x="677.15" dy="-1.7">1</tspan></text><text x="630.90" y="278.75" fill="#996633" font-family="Liberation Serif, serif" font-size="25">/</text>
</svg>
</body></html>
